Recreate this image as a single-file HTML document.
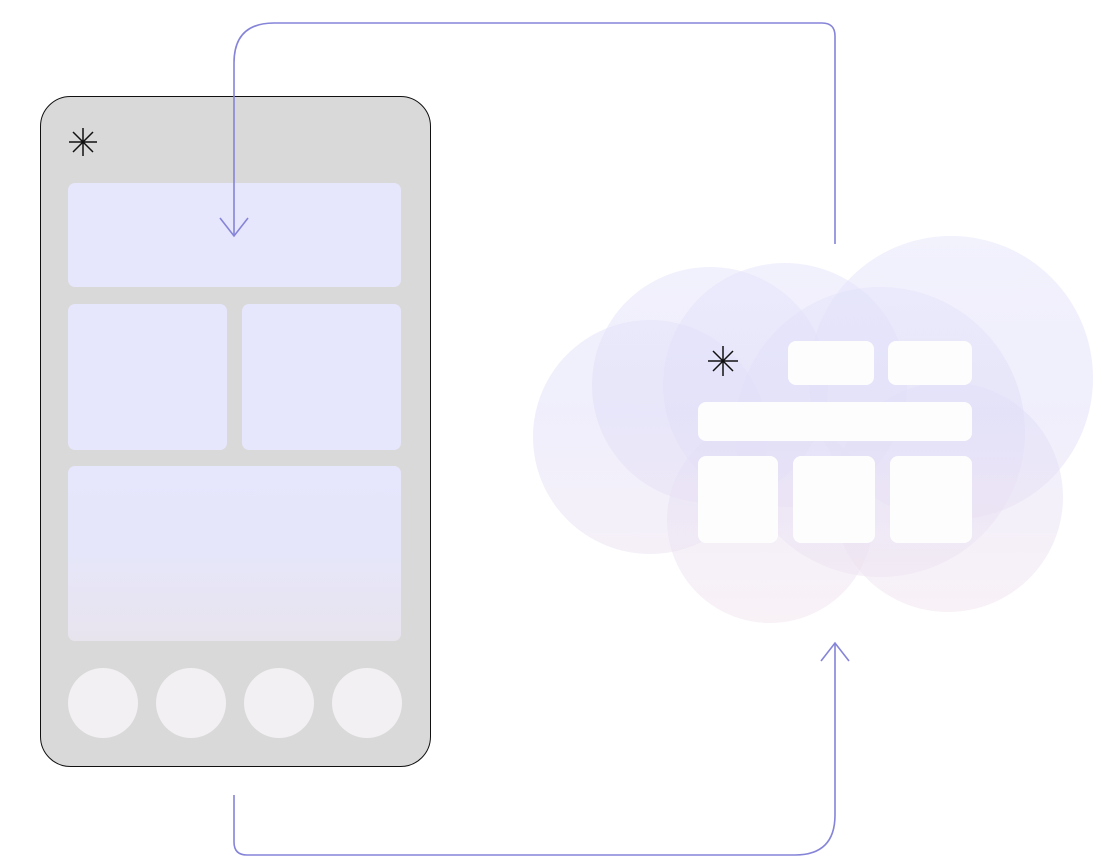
<!DOCTYPE html>
<html><head><style>html,body{margin:0;padding:0;background:#fff;}svg{display:block}</style></head>
<body>
<svg width="1106" height="866" viewBox="0 0 1106 866" xmlns="http://www.w3.org/2000/svg">
<defs>
<linearGradient id="cg" gradientUnits="userSpaceOnUse" x1="0" y1="240" x2="0" y2="625">
<stop offset="0" stop-color="#e4e4fb" stop-opacity="0.5"/>
<stop offset="0.45" stop-color="#e0def8" stop-opacity="0.5"/>
<stop offset="1" stop-color="#f2e4ee" stop-opacity="0.5"/>
</linearGradient>
<linearGradient id="bg2" x1="0" y1="0" x2="0" y2="1">
<stop offset="0" stop-color="#e6e6fc"/>
<stop offset="0.5" stop-color="#e6e6fa"/>
<stop offset="1" stop-color="#e8e4ee"/>
</linearGradient>
</defs>
<!-- cloud -->
<g fill="url(#cg)">
<circle cx="951" cy="378" r="142"/>
<circle cx="650" cy="437" r="117"/>
<circle cx="710" cy="385" r="118"/>
<circle cx="785" cy="385" r="122"/>
<circle cx="880" cy="432" r="145"/>
<circle cx="770" cy="520" r="103"/>
<circle cx="948" cy="497" r="115"/>
</g>
<g fill="#fdfdfd">
<rect x="788" y="341" width="86" height="44" rx="8"/>
<rect x="888" y="341" width="84" height="44" rx="8"/>
<rect x="698" y="402" width="274" height="39" rx="8"/>
<rect x="698" y="456" width="80" height="87" rx="8"/>
<rect x="793" y="456" width="82" height="87" rx="8"/>
<rect x="890" y="456" width="82" height="87" rx="8"/>
</g>
<g stroke="#111" stroke-width="1.5">
<line x1="723" y1="346" x2="723" y2="376"/><line x1="708" y1="361" x2="738" y2="361"/>
<line x1="713" y1="351" x2="733" y2="371"/><line x1="733" y1="351" x2="713" y2="371"/>
</g>
<!-- phone -->
<rect x="40.5" y="96.5" width="390" height="670" rx="30" fill="#d9d9d9" stroke="#111" stroke-width="1"/>
<g stroke="#111" stroke-width="1.5">
<line x1="83" y1="128" x2="83" y2="156"/><line x1="69" y1="142" x2="97" y2="142"/>
<line x1="73" y1="132" x2="93" y2="152"/><line x1="93" y1="132" x2="73" y2="152"/>
</g>
<rect x="68" y="183" width="333" height="104" rx="7" fill="#e6e6fc"/>
<rect x="68" y="304" width="159" height="146" rx="7" fill="#e6e6fc"/>
<rect x="242" y="304" width="159" height="146" rx="7" fill="#e6e6fc"/>
<rect x="68" y="466" width="333" height="175" rx="7" fill="url(#bg2)"/>
<g fill="#f2f0f2">
<circle cx="103" cy="703" r="35"/><circle cx="191" cy="703" r="35"/>
<circle cx="279" cy="703" r="35"/><circle cx="367" cy="703" r="35"/>
</g>
<!-- connectors -->
<g fill="none" stroke="#8584d8" stroke-width="1.6">
<path d="M835 244 V36 Q835 23 822 23 H274 Q234 23 234 63 V236"/>
<path d="M220 218 L234 236 L248 218"/>
<path d="M234 795 V842 Q234 855 247 855 H795 Q835 855 835 815 V643"/>
<path d="M821 661 L835 643 L849 661"/>
</g>
</svg>
</body></html>
